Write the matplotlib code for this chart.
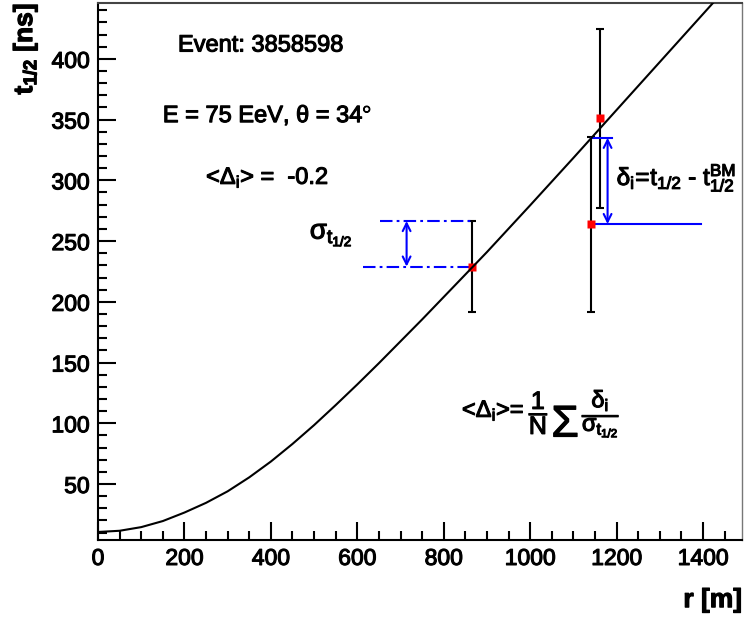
import matplotlib.pyplot as plt
import matplotlib.patheffects as pe
from matplotlib.ticker import MultipleLocator

plt.rcParams['font.family'] = ['Liberation Sans', 'DejaVu Sans']
plt.rcParams['mathtext.fontset'] = 'custom'
plt.rcParams['mathtext.rm'] = 'Liberation Sans'
plt.rcParams['mathtext.it'] = 'Liberation Sans'
plt.rcParams['mathtext.bf'] = 'Liberation Sans:bold'
plt.rcParams['lines.scale_dashes'] = False

# fitted t1/2(r) curve
curve_r = [0, 50, 100, 150, 200, 250, 300, 350, 400, 450, 500, 550, 600, 650,
           700, 750, 800, 900, 1000, 1100, 1200, 1300, 1400, 1500]
curve_t = [10.5, 11.5, 14.5, 19.5, 26.5, 34.5, 44, 55.5, 68.5, 83, 98.5, 115,
           132, 149.5, 167.5, 185.5, 204, 241, 279.5, 318.5, 358, 397.5, 437, 476.5]

# measured stations
station_r = [865, 1141, 1162]
station_t = [229, 264, 351]
station_err = [37.5, 72, 73.5]

# fit value at the second station
t_fit2 = 335

heavy = [pe.withStroke(linewidth=0.8, foreground='black')]

fig = plt.figure(figsize=(7.45, 6.21), dpi=100)
ax = fig.add_axes([98 / 745, 1 - 540 / 621, 644 / 745, 537 / 621])

ax.errorbar(station_r, station_t, yerr=station_err, fmt='none', ecolor='black',
            elinewidth=1.5, capsize=3, capthick=1.5, zorder=2)
ax.plot(station_r, station_t, 's', color='red', ms=5.5, mec='none', zorder=2.5)
ax.plot(curve_r, curve_t, color='black', lw=1.5, zorder=3)

# sigma of the first station
sig_top = station_t[0] + station_err[0]
ax.plot([652, station_r[0]], [sig_top, sig_top], color='blue', lw=1.5,
        dashes=(9, 3, 2, 3))
ax.plot([613, station_r[0]], [station_t[0], station_t[0]], color='blue', lw=1.5,
        dashes=(9, 3, 2, 3))
ax.annotate('', xy=(714, sig_top), xytext=(714, station_t[0]),
            arrowprops=dict(arrowstyle='<->', color='blue', lw=1.5,
                            shrinkA=0, shrinkB=0, mutation_scale=14))
ax.text(490, 255, r'$\sigma_{t_{1/2}}$', fontsize=20, va='center', ha='left',
        path_effects=heavy)

# residual of the second station
ax.plot([station_r[1], 1395], [station_t[1], station_t[1]], color='blue', lw=1.5)
ax.plot([station_r[1], 1190], [t_fit2, t_fit2], color='blue', lw=1.5)
ax.annotate('', xy=(1179, t_fit2), xytext=(1179, station_t[1]),
            arrowprops=dict(arrowstyle='<->', color='blue', lw=1.5,
                            shrinkA=0, shrinkB=0, mutation_scale=14))
ax.text(1200, 302, r'$\delta_{i}\!=\!\mathrm{t}_{1/2}$ - $\mathrm{t}^{\mathrm{BM}}_{1/2}$',
        fontsize=17.5, va='center', ha='left', path_effects=heavy)

ax.text(185, 411, 'Event: 3858598', fontsize=17, va='center', ha='left',
        path_effects=heavy)
ax.text(150, 354, r'E = 75 EeV, $\theta$ = 34$^{\circ}$', fontsize=17,
        va='center', ha='left', path_effects=heavy)
ax.text(250, 302.5, r'<$\Delta_{i}$> =  -0.2', fontsize=17, va='center', ha='left',
        path_effects=heavy)

# mean normalised residual formula
ax.text(842, 105.3, r'<$\Delta_{i}$>=', fontsize=17, va='baseline', ha='left',
        path_effects=heavy)
ax.text(1020, 108.3, r'$\dfrac{1}{N}$', fontsize=18, va='center', ha='center',
        path_effects=heavy)
ax.text(1081, 89, r'$\Sigma$', fontsize=32, va='baseline', ha='center',
        path_effects=heavy)
ax.text(1164, 108, r'$\dfrac{\delta_{i}}{\sigma_{t_{1/2}}}$', fontsize=17,
        va='center', ha='center', path_effects=heavy)

ax.set_xlim(0, 1490)
ax.set_ylim(3.9, 446)
ax.xaxis.set_major_locator(MultipleLocator(200))
ax.xaxis.set_minor_locator(MultipleLocator(50))
ax.yaxis.set_major_locator(MultipleLocator(50))
ax.yaxis.set_minor_locator(MultipleLocator(10))
ax.tick_params(which='both', direction='in', top=False, right=False, width=1.5,
               labelsize=16.5)
ax.tick_params(which='major', length=13, pad=5)
ax.tick_params(which='minor', length=6.5)
ax.tick_params(axis='y', which='major', pad=6)

for side in ['left', 'bottom']:
    ax.spines[side].set_linewidth(1.5)
ax.spines['top'].set_linewidth(1.5)
ax.spines['top'].set_color('#444444')
ax.spines['right'].set_linewidth(1)
ax.spines['right'].set_color('#777777')

ax.set_xlabel('r [m]', fontsize=19, fontweight='bold', loc='right',
              path_effects=heavy)
ax.xaxis.set_label_coords(1.0, -0.112)
ax.xaxis.label.set_va('center')
ax.set_ylabel(r'$\mathbf{t_{1/2}}$ [ns]', fontsize=19, fontweight='bold', loc='top',
              path_effects=heavy)
ax.yaxis.set_label_coords(-0.113, 1.0)
ax.yaxis.label.set_va('center')

fig.canvas.draw()
for lab in ax.get_xticklabels() + ax.get_yticklabels():
    lab.set_path_effects(heavy)

fig.savefig('out.png', dpi=100)
